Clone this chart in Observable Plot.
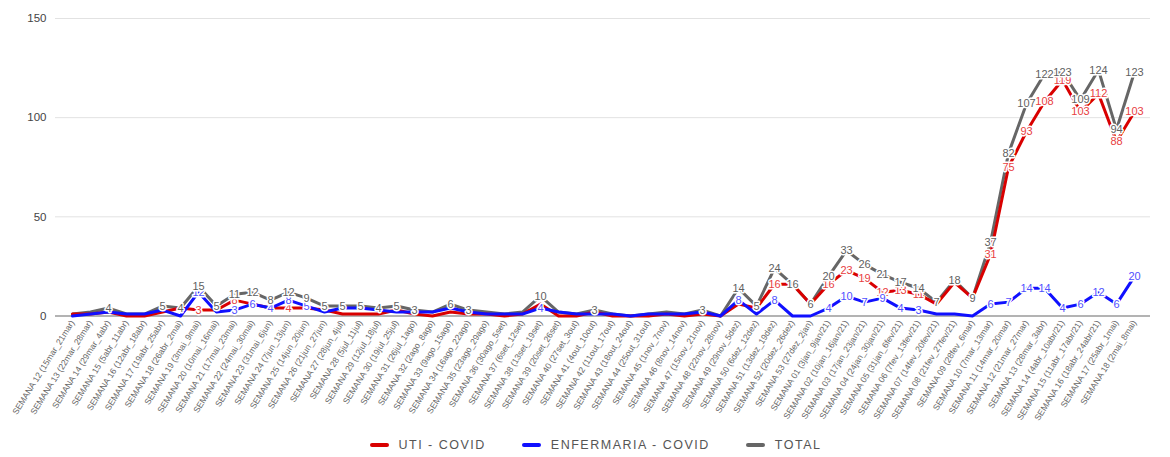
<!DOCTYPE html>
<html>
<head>
<meta charset="utf-8">
<script src="https://cdn.jsdelivr.net/npm/d3@7"></script>
<script src="https://cdn.jsdelivr.net/npm/@observablehq/plot@0.6"></script>
<style>
  html, body { margin: 0; padding: 0; background: #fff; }
  body { width: 1170px; height: 457px; overflow: hidden; font-family: "Liberation Sans", Arial, sans-serif; }
  #chart svg { display: block; }
  #legend { display: flex; justify-content: center; align-items: center; gap: 36px; height: 25px; margin-left: 21px; color: #555; font-size: 12.5px; letter-spacing: 1.5px; }
  .item { display: flex; align-items: center; gap: 10px; }
  .sw { width: 19px; height: 4px; border-radius: 2px; display: inline-block; }
</style>
</head>
<body>
<div id="chart"></div>
<div id="legend"></div>
<script>
const weeks = [
  "SEMANA 12 (15mar_21mar)", "SEMANA 13 (22mar_28mar)", "SEMANA 14 (29mar_4abr)", "SEMANA 15 (5abr_11abr)",
  "SEMANA 16 (12abr_18abr)", "SEMANA 17 (19abr_25abr)", "SEMANA 18 (26abr_2mai)", "SEMANA 19 (3mai_9mai)",
  "SEMANA 20 (10mai_16mai)", "SEMANA 21 (17mai_23mai)", "SEMANA 22 (24mai_30mai)", "SEMANA 23 (31mai_6jun)",
  "SEMANA 24 (7jun_13jun)", "SEMANA 25 (14jun_20jun)", "SEMANA 26 (21jun_27jun)", "SEMANA 27 (28jun_4jul)",
  "SEMANA 28 (5jul_11jul)", "SEMANA 29 (12jul_18jul)", "SEMANA 30 (19jul_25jul)", "SEMANA 31 (26jul_1ago)",
  "SEMANA 32 (2ago_8ago)", "SEMANA 33 (9ago_15ago)", "SEMANA 34 (16ago_22ago)", "SEMANA 35 (23ago_29ago)",
  "SEMANA 36 (30ago_5set)", "SEMANA 37 (6set_12set)", "SEMANA 38 (13set_19set)", "SEMANA 39 (20set_26set)",
  "SEMANA 40 (27set_3out)", "SEMANA 41 (4out_10out)", "SEMANA 42 (11out_17out)", "SEMANA 43 (18out_24out)",
  "SEMANA 44 (25out_31out)", "SEMANA 45 (1nov_7nov)", "SEMANA 46 (8nov_14nov)", "SEMANA 47 (15nov_21nov)",
  "SEMANA 48 (22nov_28nov)", "SEMANA 49 (29nov_5dez)", "SEMANA 50 (6dez_12dez)", "SEMANA 51 (13dez_19dez)",
  "SEMANA 52 (20dez_26dez)", "SEMANA 53 (27dez_2jan)", "SEMANA 01 (3jan_9jan/21)", "SEMANA 02 (10jan_16jan/21)",
  "SEMANA 03 (17jan_23jan/21)", "SEMANA 04 (24jan_30jan/21)", "SEMANA 05 (31jan_6fev/21)", "SEMANA 06 (7fev_13fev/21)",
  "SEMANA 07 (14fev_20fev/21)", "SEMANA 08 (21fev_27fev/21)", "SEMANA 09 (28fev_6mar)", "SEMANA 10 (7mar_13mar)",
  "SEMANA 11 (14mar_20mar)", "SEMANA 12 (21mar_27mar)", "SEMANA 13 (28mar_3abr)", "SEMANA 14 (4abr_10abr/21)",
  "SEMANA 15 (11abr_17abr/21)", "SEMANA 16 (18abr_24abr/21)", "SEMANA 17 (25abr_1mai)", "SEMANA 18 (2mai_8mai)"
];

const uti = [
  1, 1, 2, 0, 0, 2, 4, 3, 3, 8, 6, 4, 4, 4, 3, 1, 1, 1, 3, 1,
  0, 2, 1, 1, 0, 1, 6, 0, 0, 2, 0, 0, 0, 1, 0, 1, 0, 6, 4, 16,
  16, 6, 16, 23, 19, 12, 13, 11, 6, 17, 9, 31, 75, 93, 108, 119, 103, 112, 88, 103
];

const enfermaria = [
  0, 1, 2, 1, 1, 3, 0, 12, 2, 3, 6, 4, 8, 5, 2, 4, 4, 3, 2, 2,
  2, 4, 2, 1, 1, 1, 4, 2, 1, 1, 1, 0, 1, 1, 1, 2, 0, 8, 1, 8,
  0, 0, 4, 10, 7, 9, 4, 3, 1, 1, 0, 6, 7, 14, 14, 4, 6, 12, 6, 20
];

const total = [
  1, 2, 4, 1, 1, 5, 4, 15, 5, 11, 12, 8, 12, 9, 5, 5, 5, 4, 5, 3,
  2, 6, 3, 2, 1, 2, 10, 2, 1, 3, 1, 0, 1, 2, 1, 3, 0, 14, 5, 24,
  16, 6, 20, 33, 26, 21, 17, 14, 7, 18, 9, 37, 82, 107, 122, 123, 109, 124, 94, 123
];

const seriesNames = ["UTI - COVID", "ENFERMARIA - COVID", "TOTAL"];
const yTicks = [0, 50, 100, 150];

// styles
const lineColors = {"UTI - COVID": "#d90000", "ENFERMARIA - COVID": "#1010ff", "TOTAL": "#666666"};
const labelColors = {"UTI - COVID": "#e8403f", "ENFERMARIA - COVID": "#5050ff", "TOTAL": "#5f5f5f"};

const seriesValues = [uti, enfermaria, total];
const rowsBy = seriesNames.map((name, s) => weeks.map((w, i) => ({week: w, i, value: seriesValues[s][i], series: name})));

// label visibility like the source chart: small values and labels hidden behind
// a label of higher priority at the same week are not drawn
const placed = weeks.map(() => []);
const visible = [[], [], []];
for (const s of [2, 1, 0]) {
  for (const d of rowsBy[s]) {
    if (d.value < 3) continue;
    if (placed[d.i].some(v => Math.abs(v - d.value) < 3)) continue;
    placed[d.i].push(d.value);
    visible[s].push(d);
  }
}

const lineOrder = [2, 0, 1];
const marks = [
  Plot.gridY([50, 100, 150], {stroke: "#e2e2e2", strokeOpacity: 1, strokeWidth: 1}),
  Plot.ruleY([0], {stroke: "#9a9a9a", strokeWidth: 1.5}),
  Plot.axisY(yTicks, {tickSize: 0, tickPadding: 9, fontSize: 11.5, fill: "#444", label: null}),
  Plot.axisX({tickRotate: -58, tickSize: 0, tickPadding: 5, fontSize: 8.6, fill: "#666", label: null})
];
for (const s of lineOrder) {
  marks.push(Plot.line(rowsBy[s], {x: "week", y: "value", stroke: lineColors[seriesNames[s]], strokeWidth: 3, strokeLinejoin: "round"}));
}
for (const s of [0, 1, 2]) {
  marks.push(Plot.text(visible[s], {
    x: "week", y: "value", text: d => String(d.value),
    fill: labelColors[seriesNames[s]], stroke: "white", strokeWidth: 3, paintOrder: "stroke",
    fontSize: 11, fontFamily: "Liberation Sans, Arial, sans-serif"
  }));
}

const chart = Plot.plot({
  width: 1170,
  height: 432,
  marginLeft: 55,
  marginRight: 20,
  marginTop: 18,
  marginBottom: 116.5,
  style: {fontFamily: "Liberation Sans, Arial, sans-serif", background: "#fff"},
  x: {type: "point", domain: weeks, padding: 0.55},
  y: {domain: [0, 150]},
  marks
});
document.getElementById("chart").appendChild(chart);

const legend = document.getElementById("legend");
for (const name of seriesNames) {
  const item = document.createElement("div");
  item.className = "item";
  const sw = document.createElement("span");
  sw.className = "sw";
  sw.style.background = lineColors[name];
  const t = document.createElement("span");
  t.textContent = name;
  item.appendChild(sw);
  item.appendChild(t);
  legend.appendChild(item);
}
</script>
</body>
</html>
